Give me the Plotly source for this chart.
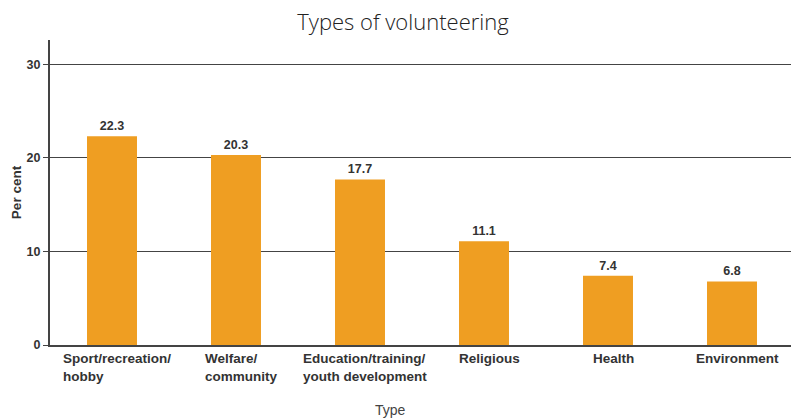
import plotly.graph_objects as go

categories = ["Sport/recreation/<br>hobby", "Welfare/<br>community", "Education/training/<br>youth development",
              "Religious", "Health", "Environment"]
values = [22.3, 20.3, 17.7, 11.1, 7.4, 6.8]
y_ticks = [0, 10, 20, 30]

W, H = 791, 419
L, R, T, B = 50, 0, 40, 74

fig = go.Figure()
fig.add_trace(go.Bar(
    x=list(range(len(categories))), y=values, width=0.403,
    marker=dict(color="#EF9E22", line=dict(width=0)),
    text=[f"{v:.1f}" for v in values], textposition="outside",
    textfont=dict(family="Liberation Sans, Arial", size=12.5, color="#333333", weight="bold"),
    cliponaxis=False,
))

annotations = []
for i, c in enumerate(categories):
    annotations.append(dict(x=i, y=0, xref="x", yref="paper", text=c, showarrow=False,
                            xanchor="center", yanchor="top", align="left", yshift=-4, xshift=5,
                            font=dict(family="Liberation Sans, Arial", size=13.5, color="#333333", weight="bold")))
annotations.append(dict(x=(390 - L) / (W - L - R), y=-(410 - (H - B)) / (H - T - B), xref="paper", yref="paper",
                        text="Type", showarrow=False, xanchor="center", yanchor="middle",
                        font=dict(family="Liberation Sans, Arial", size=14, color="#444444")))

fig.update_layout(
    width=W, height=H,
    margin=dict(l=L, r=R, t=T, b=B, autoexpand=False),
    paper_bgcolor="white", plot_bgcolor="white",
    showlegend=False,
    title=dict(text="Types of volunteering", x=(403) / W, xanchor="center", y=1 - 22 / H, yanchor="middle",
               font=dict(family="Open Sans, Noto Sans", size=22, color="#222222", weight=300)),
    xaxis=dict(range=[-0.5, -0.5 + (W - L - R) / 124], showticklabels=False, ticks="",
               showline=True, linecolor="#444444", linewidth=2, showgrid=False, zeroline=False),
    yaxis=dict(range=[0, 32.6], tickvals=y_ticks, showline=True, linecolor="#444444", linewidth=2,
               ticks="outside", ticklen=5, tickcolor="#444444", tickwidth=1, automargin=False,
               showgrid=True, gridcolor="#444444", gridwidth=1, zeroline=False,
               tickfont=dict(family="Liberation Sans, Arial", size=12.5, color="#333333", weight="bold"),
               title=dict(text="Per cent", standoff=2,
                          font=dict(family="Liberation Sans, Arial", size=13.5, color="#333333", weight="bold"))),
    annotations=annotations,
)

fig.write_html("out.html", config={"displayModeBar": False},
               post_script="document.body.style.margin='0';document.body.style.padding='0';")
